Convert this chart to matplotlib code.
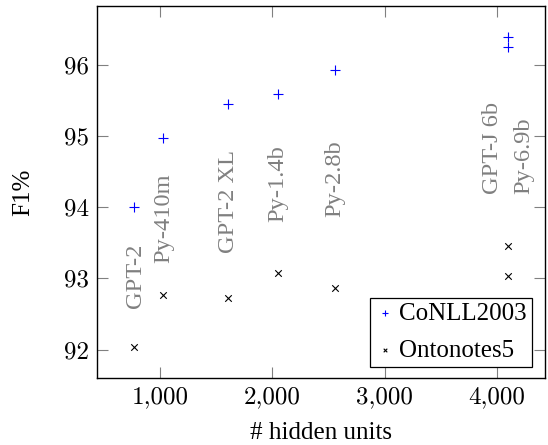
import matplotlib
matplotlib.use("Agg")
import matplotlib.pyplot as plt
from matplotlib.ticker import FuncFormatter, FixedLocator

# Data
conll_x = [768, 1024, 1600, 2048, 2560, 4096, 4096]
conll_y = [94.0, 94.98, 95.45, 95.59, 95.93, 96.40, 96.26]
onto_x = [768, 1024, 1600, 2048, 2560, 4096, 4096]
onto_y = [92.03, 92.76, 92.73, 93.08, 92.87, 93.45, 93.03]
model_labels = ["GPT-2", "Py-410m", "GPT-2 XL", "Py-1.4b", "Py-2.8b", "GPT-J 6b", "Py-6.9b"]
label_x = [780, 1030, 1610, 2050, 2555, 3965, 4240]
label_y = [92.59, 93.22, 93.36, 93.80, 93.87, 94.19, 94.19]
x_ticks = [1000, 2000, 3000, 4000]
y_ticks = [92, 93, 94, 95, 96]

plt.rcParams['font.family'] = ['Liberation Serif', 'DejaVu Serif']
plt.rcParams['mathtext.fontset'] = 'cm'

fig = plt.figure(figsize=(5.48, 4.45), dpi=100)
ax = fig.add_axes([97/548, 1 - 378/445, (545-97)/548, (378-6)/445])

ax.scatter(conll_x, conll_y, marker='+', s=55, color='#0000ff', linewidths=0.8,
           label='CoNLL2003', zorder=3)
ax.scatter(onto_x, onto_y, marker='x', s=22, color='black', linewidths=0.8,
           label='Ontonotes5', zorder=3)

for lx, ly, t in zip(label_x, label_y, model_labels):
    ax.text(lx, ly, t, rotation=90, ha='center', va='bottom', color='#808080',
            fontsize=17.6)

ax.set_xlim(435, 4430)
ax.set_ylim(91.6, 96.83)
ax.xaxis.set_major_locator(FixedLocator(x_ticks))
ax.yaxis.set_major_locator(FixedLocator(y_ticks))
ax.xaxis.set_major_formatter(FuncFormatter(lambda v, p: f"{v:,.0f}"))
ax.yaxis.set_major_formatter(FuncFormatter(lambda v, p: f"{v:.0f}"))
ax.tick_params(direction='in', length=7.6, width=0.8, color='#808080',
               top=True, right=True, labelsize=18, pad=6)
for lab in ax.get_xticklabels() + ax.get_yticklabels():
    lab.set_family('cmr10')
for sp in ax.spines.values():
    sp.set_linewidth(1.0)
    sp.set_color('black')

ax.set_xlabel('# hidden units', fontsize=18, labelpad=10)
ax.set_ylabel('F1%', fontsize=18, labelpad=21)

leg = ax.legend(loc='lower right', fontsize=18, frameon=True, fancybox=False,
                edgecolor='black', framealpha=1, borderpad=0.2, handletextpad=0.15,
                handlelength=0.8, labelspacing=0.58, markerscale=0.55,
                borderaxespad=0,
                bbox_to_anchor=(1 - 13.5/448, 11/372))
leg.get_frame().set_linewidth(0.9)

fig.savefig('out.png', dpi=100)
